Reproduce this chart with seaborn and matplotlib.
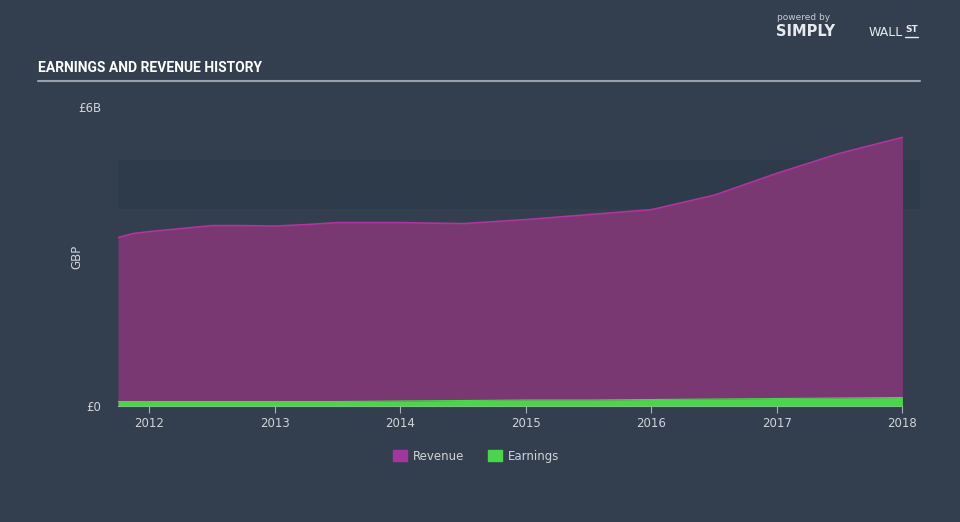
import matplotlib
matplotlib.use("Agg")
import matplotlib.pyplot as plt
import matplotlib.patches as mpatches
import seaborn as sns
import pandas as pd
import numpy as np

# Data (GBP billions)
dates = [2011.75, 2011.87, 2012.0, 2012.25, 2012.5, 2012.75, 2013.0, 2013.25, 2013.5,
         2014.0, 2014.5, 2015.0, 2015.5, 2016.0, 2016.5, 2017.0, 2017.5, 2018.0]
revenue = [3.38, 3.46, 3.50, 3.56, 3.62, 3.62, 3.61, 3.64, 3.68,
           3.68, 3.66, 3.74, 3.84, 3.94, 4.23, 4.67, 5.07, 5.39]
earnings = [0.09, 0.09, 0.09, 0.09, 0.09, 0.09, 0.09, 0.09, 0.09,
            0.10, 0.11, 0.12, 0.12, 0.13, 0.14, 0.15, 0.16, 0.17]
year_ticks = [2012, 2013, 2014, 2015, 2016, 2017, 2018]
y_ticks = [0, 6]
y_tick_labels = ["£0", "£6B"]

BG = "#333f4f"
REV_FILL = "#7a3872"
REV_LINE = "#b0359e"
EARN = "#4cd44c"
TXT = "#d0d4da"

df = pd.DataFrame({"date": dates, "Revenue": revenue, "Earnings": earnings})

sns.set_style("dark")
plt.rcParams["font.family"] = ["DejaVu Sans"]

fig = plt.figure(figsize=(9.6, 5.22), dpi=100, facecolor=BG)
ax = fig.add_axes([118/960, 1 - 406/522, (920-118)/960, (406-107)/522])
ax.set_facecolor(BG)

# darker band
ax.axhspan(3.96, 4.93, color="#2e3b4a", zorder=0, lw=0)

ax.fill_between(df["date"], 0, df["Revenue"], color=REV_FILL, lw=0, zorder=1)
sns.lineplot(data=df, x="date", y="Revenue", ax=ax, color=REV_LINE, lw=1.2, zorder=2)
ax.fill_between(df["date"], 0, df["Earnings"], color=EARN, lw=0, zorder=3)
sns.lineplot(data=df, x="date", y="Earnings", ax=ax, color=EARN, lw=0.8, zorder=3)

ax.set_xlim(2011.75, 2018.14)
ax.set_ylim(0, 6)
ax.set_xticks(year_ticks)
ax.set_xticklabels([str(y) for y in year_ticks], color=TXT, fontsize=8.5)
ax.set_yticks(y_ticks)
ax.set_yticklabels(y_tick_labels, color=TXT, fontsize=8.5)
ax.tick_params(axis="x", length=5, width=0.8, color="#aab0b8", pad=3, direction="out", bottom=True)
ax.tick_params(axis="y", length=0, pad=12)
ax.set_xlabel("")
ax.set_ylabel("GBP", color=TXT, fontsize=8.5)
ax.yaxis.set_label_coords((83 - 118) / (920 - 118), 0.5)
for s in ["top", "right", "left"]:
    ax.spines[s].set_visible(False)
ax.spines["bottom"].set_visible(True)
ax.spines["bottom"].set_color("#aab0b8")
ax.spines["bottom"].set_linewidth(0.8)
ax.spines["bottom"].set_bounds(2011.75, 2018.0)
ax.grid(False)

# Title and rule
fig.text(38/960, 1 - 68/522, "EARNINGS AND REVENUE HISTORY", color="white",
         fontsize=10, fontweight="bold", va="center",
         family=["Roboto", "DejaVu Sans"])
fig.add_artist(plt.Line2D([38/960, 920/960], [1 - 81/522, 1 - 81/522],
                          color="#9aa1aa", lw=1.5, transform=fig.transFigure))

# Logo text
fig.text(777/960, 1 - 18/522, "powered by", color="#c8ccd2", fontsize=6.5, va="center")
fig.text(776/960, 1 - 32/522, "SIMPLY", color="#e8eaee", fontsize=10.5, fontweight="bold", va="center")
fig.text(869/960, 1 - 32/522, "WALL", color="#e8eaee", fontsize=9, va="center")
fig.text(905/960, 1 - 30/522, "ST", color="#e8eaee", fontsize=6.5, fontweight="bold", va="center")
fig.add_artist(plt.Line2D([905/960, 918/960], [1 - 37/522, 1 - 37/522],
                          color="#e8eaee", lw=1, transform=fig.transFigure))

# Legend
handles = [mpatches.Patch(color="#a3369c", label="Revenue"),
           mpatches.Patch(color=EARN, label="Earnings")]
leg = fig.legend(handles=handles, loc="center", bbox_to_anchor=(476/960, 1 - 456/522),
                 ncol=2, frameon=False, fontsize=8.5, handlelength=1.2, handleheight=1.0,
                 columnspacing=2.0, handletextpad=0.5)
for t in leg.get_texts():
    t.set_color(TXT)

fig.savefig("out.png", dpi=100, facecolor=BG)
